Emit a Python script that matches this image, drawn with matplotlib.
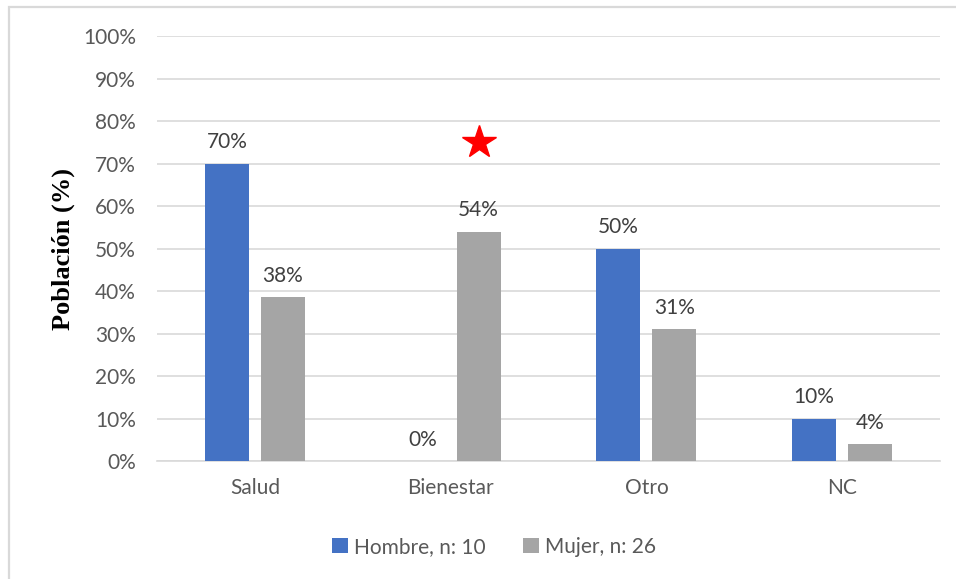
import numpy as np
import matplotlib.pyplot as plt
import matplotlib.patches as mpatches

# Data
categories = ['Salud', 'Bienestar', 'Otro', 'NC']
hombre = [70, 0, 50, 10]
mujer = [38.5, 54, 31, 4]
hombre_labels = ['70%', '0%', '50%', '10%']
mujer_labels = ['38%', '54%', '31%', '4%']
series_names = ['Hombre, n: 10', 'Mujer, n: 26']
star_category = 1      # Bienestar, over the Mujer bar
star_value = 75

blue = '#4472C4'
gray = '#A5A5A5'
text_gray = '#595959'
grid_gray = '#D9D9D9'
font = 'Lato'
fs = 15

fig = plt.figure(figsize=(9.56, 5.79), dpi=100)
ax = fig.add_axes([0.1642, 0.2038, 0.8191, 0.734])

# chart border (only left and top edges are visible in the image)
fig.patches.append(mpatches.Rectangle((8.5 / 956, -0.1), 1.2, 1.1 - 7 / 579,
                                      transform=fig.transFigure, fill=False,
                                      edgecolor=grid_gray, linewidth=1.6))

x = np.arange(len(categories))
w = 0.224
off = 0.143
b1 = ax.bar(x - off, hombre, w, color=blue, label=series_names[0], zorder=3)
b2 = ax.bar(x + off, mujer, w, color=gray, label=series_names[1], zorder=3)

for bars, labels in [(b1, hombre_labels), (b2, mujer_labels)]:
    for rect, lab in zip(bars, labels):
        ax.annotate(lab, (rect.get_x() + rect.get_width() / 2, rect.get_height()),
                    xytext=(0, 8), textcoords='offset points', ha='center', va='bottom',
                    fontsize=fs, color='#404040', family=font)

# significance star
ax.plot(star_category + off, star_value, marker='*', color='#FF0000',
        markersize=25, zorder=4, clip_on=False)

ax.set_xlim(-0.5, len(categories) - 0.5)
ax.set_ylim(0, 100)
ax.set_yticks(np.arange(0, 101, 10))
ax.set_yticklabels([f'{v}%' for v in range(0, 101, 10)])
ax.set_xticks(x)
ax.set_xticklabels(categories)
ax.tick_params(axis='both', length=0, labelsize=fs, labelcolor=text_gray)
ax.tick_params(axis='y', pad=15)
ax.tick_params(axis='x', pad=12)
for lbl in ax.get_xticklabels() + ax.get_yticklabels():
    lbl.set_family(font)

ax.grid(axis='y', color=grid_gray, linewidth=1.2, zorder=0)
for s in ['top', 'right', 'left']:
    ax.spines[s].set_visible(False)
ax.spines['bottom'].set_color(grid_gray)
ax.spines['bottom'].set_linewidth(1.2)

ax.set_ylabel('Población (%)', family='Liberation Serif', fontweight='bold',
              fontsize=19, color='black', labelpad=6)

ax.legend(loc='center', bbox_to_anchor=(494 / 956, 32 / 579), bbox_transform=fig.transFigure,
          ncol=2, frameon=False, handlelength=0.75, handleheight=0.75, handletextpad=0.3,
          columnspacing=1.8, prop={'family': font, 'size': fs}, labelcolor=text_gray)

plt.savefig('out.png', dpi=100)
